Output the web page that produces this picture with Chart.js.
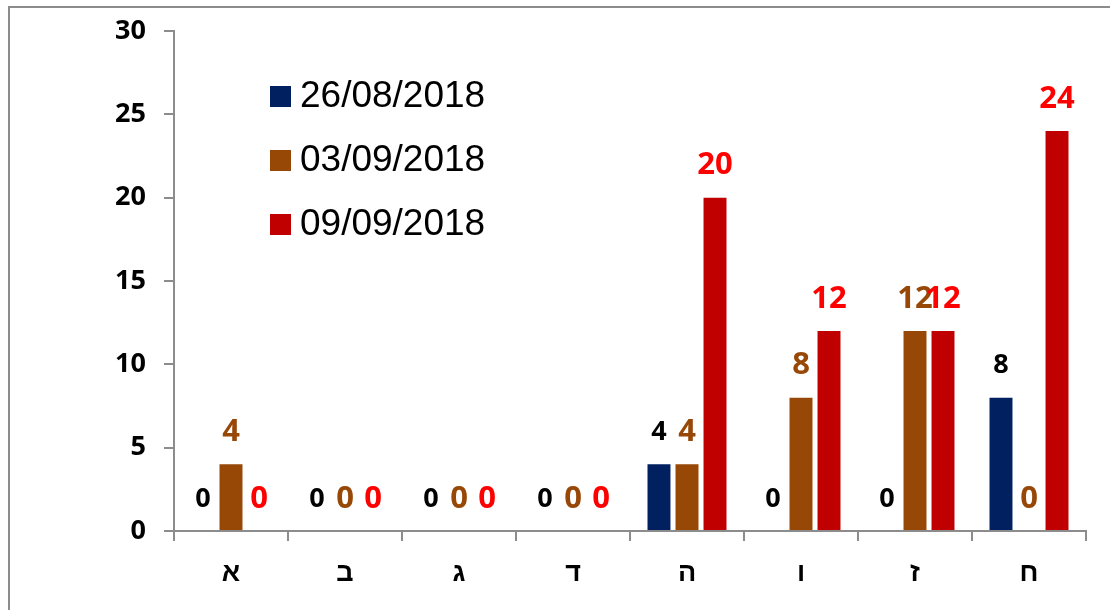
<!DOCTYPE html>
<html>
<head>
<meta charset="utf-8">
<script src="https://cdn.jsdelivr.net/npm/chart.js@4"></script>
<style>
  body { margin: 0; background: #fff; }
  #cadre { position: absolute; left: 0; top: 0; width: 1110px; height: 610px; }
  #bord { position: absolute; left: 8px; top: 6px; width: 1102px; height: 604px;
          border-left: 2px solid #8c8c8c; border-top: 2px solid #8c8c8c; }
</style>
</head>
<body>
<div id="bord"></div>
<div id="cadre"><canvas id="graphe" width="1110" height="610"></canvas></div>
<script>
// categories (lettres hebraiques)
const categories = ["א", "ב", "ג", "ד", "ה", "ו", "ז", "ח"]
// series
const serie1 = [0, 0, 0, 0, 4, 0, 0, 8]      // 26/08/2018
const serie2 = [4, 0, 0, 0, 4, 8, 12, 0]     // 03/09/2018
const serie3 = [0, 0, 0, 0, 20, 12, 12, 24]  // 09/09/2018
const nomsSeries = ["26/08/2018", "03/09/2018", "09/09/2018"]
const ticksY = [0, 5, 10, 15, 20, 25, 30]

const couleursBarres = ["#002060", "#974706", "#C00000"]
const couleursTextes = ["#000000", "#974706", "#FF0000"]
const taillesTextes = [27, 31, 31]

// etiquettes de valeur au dessus des barres
const etiquettes = {
  id: "etiquettes",
  afterDatasetsDraw(chart) {
    const ctx = chart.ctx
    chart.data.datasets.forEach((ds, d) => {
      const meta = chart.getDatasetMeta(d)
      ctx.save()
      ctx.font = "bold " + taillesTextes[d] + "px 'Open Sans'"
      ctx.fillStyle = couleursTextes[d]
      ctx.textAlign = "center"
      ctx.textBaseline = "middle"
      meta.data.forEach((barre, i) => {
        ctx.fillText(String(ds.data[i]), barre.x, barre.y - 32)
      })
      ctx.restore()
    })
  }
}

// legende dans la zone du graphe
const legende = {
  id: "legende",
  afterDraw(chart) {
    const ctx = chart.ctx
    ctx.save()
    chart.data.datasets.forEach((ds, d) => {
      ctx.fillStyle = ds.backgroundColor
      ctx.fillRect(270, 86 + 64 * d, 21, 21)
      ctx.fillStyle = "#000"
      ctx.font = "37px 'Liberation Sans'"
      ctx.textBaseline = "alphabetic"
      ctx.textAlign = "left"
      ctx.fillText(ds.label, 300, 107 + 64 * d)
    })
    ctx.restore()
  }
}

const donnees = [serie1, serie2, serie3]

new Chart(document.getElementById("graphe"), {
  type: "bar",
  data: {
    labels: categories,
    datasets: donnees.map((serie, d) => ({
      label: nomsSeries[d],
      data: serie,
      backgroundColor: couleursBarres[d],
      borderWidth: 0,
      categoryPercentage: 0.737,
      barPercentage: 0.82
    }))
  },
  options: {
    responsive: false,
    animation: false,
    devicePixelRatio: 1,
    layout: { padding: { top: 31, right: 24, left: 0, bottom: 0 } },
    plugins: { legend: { display: false }, tooltip: { enabled: false } },
    scales: {
      x: {
        offset: true,
        grid: { display: true, offset: true, drawOnChartArea: false, drawTicks: true,
                tickLength: 10, color: "#8c8c8c", lineWidth: 2 },
        border: { color: "#8c8c8c", width: 2 },
        ticks: { color: "#000", padding: 16, font: { family: "'Liberation Sans'", size: 27, weight: "bold" } },
        afterFit(scale) { scale.height = 79 }
      },
      y: {
        min: 0,
        max: 30,
        afterBuildTicks(scale) { scale.ticks = ticksY.map(v => ({ value: v })) },
        grid: { display: true, drawOnChartArea: false, drawTicks: true,
                tickLength: 10, color: "#8c8c8c", lineWidth: 2 },
        border: { color: "#8c8c8c", width: 2 },
        ticks: { color: "#000", padding: 18, font: { family: "'Open Sans'", size: 27, weight: "bold" } },
        afterFit(scale) {
          scale.width = 174
          scale.paddingTop = 0
          scale.paddingBottom = 0
        }
      }
    }
  },
  plugins: [etiquettes, legende]
})
</script>
</body>
</html>
